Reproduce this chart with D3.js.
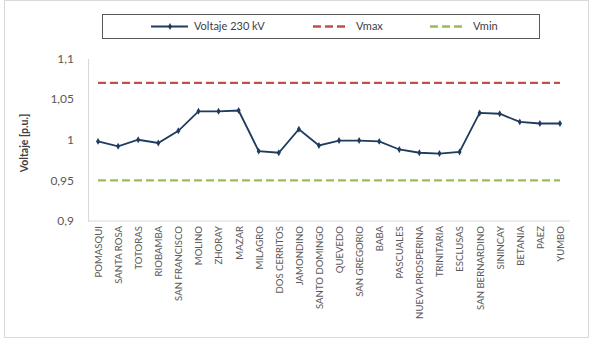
<!DOCTYPE html>
<html><head><meta charset="utf-8">
<script src="https://cdn.jsdelivr.net/npm/d3@7"></script>
<style>body{margin:0;background:#fff}svg{display:block}text{font-family:Lato,"Open Sans",sans-serif}</style>
</head><body>
<svg id="c" width="595" height="341"></svg>
<script>
const categories = ["POMASQUI","SANTA ROSA","TOTORAS","RIOBAMBA","SAN FRANCISCO","MOLINO","ZHORAY","MAZAR","MILAGRO","DOS CERRITOS","JAMONDINO","SANTO DOMINGO","QUEVEDO","SAN GREGORIO","BABA","PASCUALES","NUEVA PROSPERINA","TRINITARIA","ESCLUSAS","SAN BERNARDINO","SININCAY","BETANIA","PAEZ","YUMBO"];
const voltaje = [0.998,0.992,1.000,0.996,1.011,1.035,1.035,1.036,0.986,0.984,1.013,0.993,0.999,0.999,0.998,0.988,0.984,0.983,0.985,1.033,1.032,1.022,1.020,1.020];
const vmax = 1.07;
const vmin = 0.95;
const yTicks = [0.9,0.95,1,1.05,1.1];
const seriesNames = ["Voltaje 230 kV","Vmax","Vmin"];

const svg = d3.select("#c");
const x = d3.scalePoint().domain(categories).range([88,570]).padding(0.5);
const y = d3.scaleLinear().domain([0.9,1.1]).range([221,58.5]);
const fmt = v => d3.format(",")(v).replace(".", ",");

// outer border
svg.append("rect").attr("x",4.5).attr("y",0.5).attr("width",584).attr("height",337)
  .attr("fill","none").attr("stroke","#d9d9d9");

// axes
const yAxis = svg.append("g").attr("transform","translate(88,0)")
  .call(d3.axisLeft(y).tickValues(yTicks).tickFormat(fmt).tickSize(0).tickPadding(14));
yAxis.select(".domain").attr("stroke","#d9d9d9");
yAxis.selectAll("text").attr("font-size",12).attr("fill","#595959");

const xAxis = svg.append("g").attr("transform","translate(0,221)")
  .call(d3.axisBottom(x).tickSize(0).tickPadding(0));
xAxis.select(".domain").attr("stroke","#d9d9d9").attr("d","M88,0H570");
xAxis.selectAll("text").attr("font-size",9.6).attr("fill","#595959")
  .attr("text-anchor","end").attr("dy","0.35em")
  .attr("transform","translate(0,5) rotate(-90)");

// y title
svg.append("text").attr("transform","translate(28,143) rotate(-90)")
  .attr("text-anchor","middle").attr("font-size",10.5).attr("font-weight","bold")
  .attr("fill","#404040").text("Voltaje [p.u.]");

// limit lines
const x0 = x(categories[0]), x1 = x(categories[categories.length-1]);
svg.append("line").attr("x1",x0).attr("x2",x1).attr("y1",y(vmax)).attr("y2",y(vmax))
  .attr("stroke","#C0504D").attr("stroke-width",2.3).attr("stroke-dasharray","8,4");
svg.append("line").attr("x1",x0).attr("x2",x1).attr("y1",y(vmin)).attr("y2",y(vmin))
  .attr("stroke","#9BBB59").attr("stroke-width",2.3).attr("stroke-dasharray","8,4");

// series
const line = d3.line().x((d,i)=>x(categories[i])).y(d=>y(d));
svg.append("path").datum(voltaje).attr("d",line).attr("fill","none")
  .attr("stroke","#1F3B5E").attr("stroke-width",1.8);
svg.append("g").selectAll("path").data(voltaje).join("path")
  .attr("d",d3.symbol(d3.symbolDiamond,14))
  .attr("transform",(d,i)=>`translate(${x(categories[i])},${y(d)})`)
  .attr("fill","#1F3B5E");

// legend
const lg = svg.append("g");
lg.append("rect").attr("x",102.5).attr("y",14.5).attr("width",437).attr("height",24)
  .attr("fill","#fff").attr("stroke","#595959").attr("stroke-width",1);
const ly = 26.5;
lg.append("line").attr("x1",151).attr("x2",188).attr("y1",ly).attr("y2",ly)
  .attr("stroke","#1F3B5E").attr("stroke-width",1.8);
lg.append("path").attr("d",d3.symbol(d3.symbolDiamond,14)).attr("transform",`translate(170,${ly})`).attr("fill","#1F3B5E");
lg.append("line").attr("x1",313).attr("x2",346).attr("y1",ly).attr("y2",ly)
  .attr("stroke","#C0504D").attr("stroke-width",2.3).attr("stroke-dasharray","8,4");
lg.append("line").attr("x1",430).attr("x2",465).attr("y1",ly).attr("y2",ly)
  .attr("stroke","#9BBB59").attr("stroke-width",2.3).attr("stroke-dasharray","8,4");
const lx = [194,356,473];
seriesNames.forEach((n,i)=>{
  lg.append("text").attr("x",lx[i]).attr("y",ly).attr("dy","0.35em")
    .attr("font-size",11).attr("fill","#404040").text(n);
});
</script>
</body></html>
